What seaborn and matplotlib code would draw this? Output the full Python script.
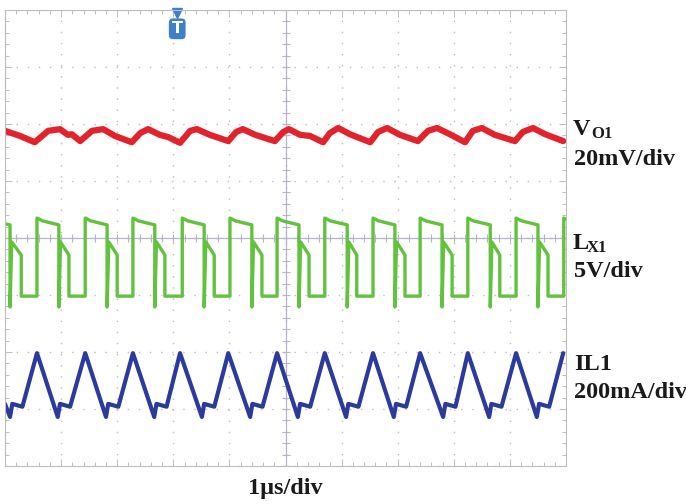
import numpy as np
import pandas as pd
import matplotlib
matplotlib.use('Agg')
import matplotlib.pyplot as plt
import seaborn as sns

# time in us (1 us/div), levels in screen divisions (centre = 0)
# V_O1 ripple (red), read vertex by vertex
vo1_t = [0.00, 0.27, 0.53, 0.77, 0.98, 1.12, 1.19, 1.34, 1.55, 1.75,
         1.96, 2.26, 2.41, 2.55, 2.76, 2.91, 3.12, 3.30, 3.42, 3.65,
         3.98, 4.12, 4.24, 4.46, 4.81, 4.96, 5.06, 5.26, 5.44, 5.67,
         5.79, 5.94, 6.15, 6.51, 6.65, 6.81, 7.04, 7.36, 7.54, 7.70,
         7.93, 8.20, 8.34, 8.50, 8.73, 9.09, 9.23, 9.41, 9.63, 9.95]
vo1_v = [1.88, 1.79, 1.68, 1.88, 1.91, 1.81, 1.82, 1.70, 1.88, 1.91,
         1.79, 1.68, 1.84, 1.91, 1.81, 1.77, 1.67, 1.88, 1.91, 1.81,
         1.70, 1.86, 1.91, 1.81, 1.70, 1.86, 1.91, 1.81, 1.79, 1.68,
         1.84, 1.93, 1.82, 1.68, 1.86, 1.93, 1.81, 1.70, 1.88, 1.93,
         1.82, 1.68, 1.88, 1.93, 1.81, 1.70, 1.86, 1.93, 1.82, 1.70]

# L_X1 switch node (green): edge times and levels
lx_fall_us = [0.09, 0.96, 1.82, 2.67, 3.55, 4.40, 5.24, 6.10, 6.95, 7.79, 8.65, 9.50]
lx_step_us = [0.29, 1.14, 2.00, 2.85, 3.73, 4.58, 5.42, 6.27, 7.13, 7.97, 8.82, 9.68]
lx_rise_us = [0.57, 1.43, 2.28, 3.16, 4.01, 4.85, 5.70, 6.56, 7.40, 8.25, 9.11, 9.96]
lx_high_top, lx_high_mid, lx_high_end = 0.35, 0.30, 0.23
lx_spike, lx_mid_top, lx_mid_end, lx_low = -1.21, -0.07, -0.30, -1.02

# IL1 inductor current (blue): troughs, peaks and levels
il1_trough_us = [0.09, 0.94, 1.80, 2.66, 3.51, 4.37, 5.22, 6.08, 6.93, 7.81, 8.63, 9.48]
il1_peak_us = [0.57, 1.43, 2.28, 3.12, 3.98, 4.85, 5.70, 6.56, 7.40, 8.25, 9.11, 9.95]
il1_peak, il1_trough, il1_shelf, il1_shelf_end = -2.02, -3.14, -2.91, -2.96

trigger_t_us = 3.07

# build trace tables
vo1 = pd.DataFrame({'t': vo1_t, 'v': vo1_v})

lx_t, lx_v = [0.0], [0.25]
for f, s, r in zip(lx_fall_us, lx_step_us, lx_rise_us):
    lx_t += [f, f, f + 0.03, s, s, r, r, r + 0.1]
    lx_v += [lx_high_end, lx_spike, lx_mid_top, lx_mid_end, lx_low, lx_low, lx_high_top, lx_high_mid]
lx = pd.DataFrame({'t': lx_t, 'v': lx_v})

il_t, il_v = [0.0], [il1_shelf]
for tr, pk in zip(il1_trough_us, il1_peak_us):
    il_t += [tr, tr + 0.04, tr + 0.22, pk]
    il_v += [il1_trough, il1_shelf, il1_shelf_end, il1_peak]
il1 = pd.DataFrame({'t': il_t, 'v': il_v})

sns.set_theme(style='white')
plt.rcParams['font.family'] = ['Liberation Serif', 'DejaVu Serif']

fig = plt.figure(figsize=(6.86, 5.04), dpi=100)
ax = fig.add_axes([5 / 686, 38 / 504, 561 / 686, 456 / 504])

# scope graticule
grid_col = '#bdbdbd'
ax.set_xlim(0, 10)
ax.set_ylim(-4, 4)
ax.set_xticks(np.arange(0, 11, 1))
ax.set_yticks(np.arange(-4, 5, 1))
ax.set_xticks(np.arange(0, 10.01, 0.2), minor=True)
ax.set_yticks(np.arange(-4, 4.01, 0.2), minor=True)
ax.tick_params(which='both', direction='in', top=True, right=True, bottom=True, left=True,
               labelbottom=False, labelleft=False, color=grid_col, width=0.7)
ax.tick_params(which='major', length=5)
ax.tick_params(which='minor', length=3)
ax.grid(True, which='major', linestyle=(0, (1, 7)), color=grid_col, lw=1.0)
for s in ax.spines.values():
    s.set_color(grid_col)
    s.set_linewidth(0.8)

centre_col = '#b9b2c8'
ax.axvline(5, color=centre_col, lw=0.9, zorder=1)
ax.axhline(0, color=centre_col, lw=0.9, zorder=1)
ax.plot(np.arange(0, 10.01, 0.2), np.zeros(51), ls='none', marker='|', ms=6, mew=0.8, color=centre_col)
ax.plot(np.full(41, 5.0), np.arange(-4, 4.01, 0.2), ls='none', marker='_', ms=6, mew=0.8, color=centre_col)

# traces
sns.lineplot(data=vo1, x='t', y='v', sort=False, estimator=None, color='#e3232b', lw=4.5, ax=ax)
sns.lineplot(data=lx, x='t', y='v', sort=False, estimator=None, color='#62c23e', lw=2.4, ax=ax)
sns.lineplot(data=il1, x='t', y='v', sort=False, estimator=None, color='#2b3b9d', lw=3.0, ax=ax)
ax.set_xlabel('')
ax.set_ylabel('')

# trigger marker
trig_col = '#3f80cc'
ax.plot([trigger_t_us], [3.94], marker='v', ms=7.5, color=trig_col, clip_on=False)
ax.text(trigger_t_us, 3.67, 'T', color='white', ha='center', va='center', fontsize=11.5,
        fontweight='bold', family='DejaVu Sans',
        bbox=dict(boxstyle='round,pad=0.18,rounding_size=0.25', fc=trig_col, ec='none'))

# channel labels
lab = dict(fontweight='bold', color='#1a1a1a', va='baseline', ha='left')
def px(x, y):
    return x / 686, 1 - y / 504

fig.text(*px(573, 135), 'V', fontsize=17.5, **lab)
fig.text(*px(591, 138), 'O1', fontsize=12, **lab)
fig.text(*px(574, 165), '20mV/div', fontsize=17.5, **lab)
fig.text(*px(573, 249), 'L', fontsize=17.5, **lab)
fig.text(*px(587, 252), 'X1', fontsize=12, **lab)
fig.text(*px(574, 277), '5V/div', fontsize=17.5, **lab)
fig.text(*px(574, 370), 'IL1', fontsize=17.5, **lab)
fig.text(*px(574, 398), '200mA/div', fontsize=17.5, **lab)
fig.text(285 / 686, 1 - 494 / 504, '1\u03bcs/div', fontsize=17.5, fontweight='bold',
         color='#1a1a1a', ha='center', va='baseline')

fig.savefig('out.png', dpi=100, facecolor='white')
